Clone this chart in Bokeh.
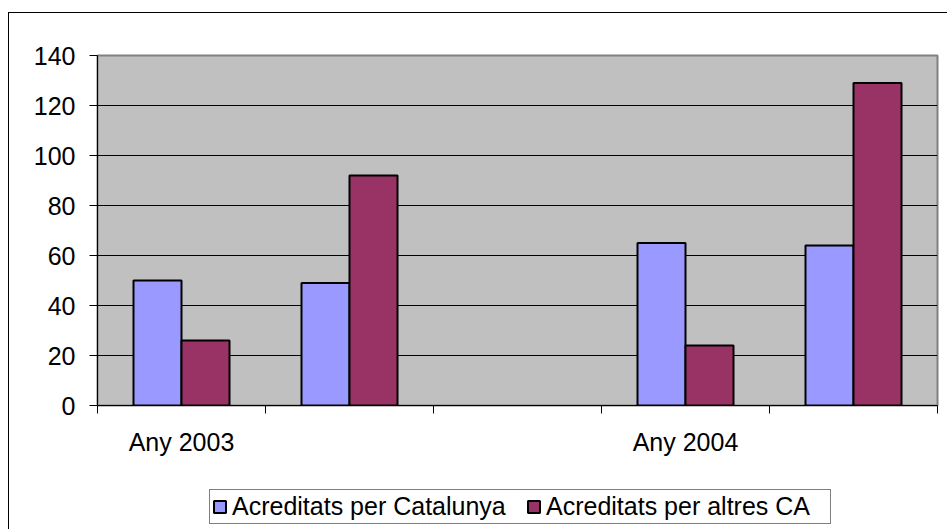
from bokeh.plotting import figure
from bokeh.models import ColumnDataSource, Range1d, FixedTicker, Legend, LegendItem
from bokeh.layouts import column
from bokeh.transform import dodge
from bokeh.embed import file_html
from bokeh.resources import INLINE

# ---- data ----
categories = ["Any 2003", "", "", "Any 2004", ""]
catalunya = [50, 49, None, 65, 64]
altres = [26, 92, None, 24, 129]
series_names = ["Acreditats per Catalunya", "Acreditats per altres CA"]
y_ticks = [0, 20, 40, 60, 80, 100, 120, 140]

FONT = "Liberation Sans"
FS = "25px"
BAR_W = 2 / 7
BLUE, PURPLE = "#9999FF", "#993366"

xs = [i + 0.5 for i in range(len(categories))]
idx = [i for i in range(len(categories)) if catalunya[i] is not None]
src = ColumnDataSource(dict(
    x=[xs[i] for i in idx],
    cat=[catalunya[i] for i in idx],
    alt=[altres[i] for i in idx],
))

# ---------------- main chart ----------------
p = figure(
    output_backend="svg", toolbar_location=None,
    width=947, height=460,
    min_border_left=97, min_border_top=55, min_border_right=10, min_border_bottom=55,
    x_range=Range1d(0, len(categories)), y_range=Range1d(0, 140),
)
p.background_fill_color = "#C0C0C0"
p.border_fill_color = None
p.outline_line_color = "#808080"
p.outline_line_width = 2
# outer chart frame (top and left edges visible in the reference)
p.styles = {
    "background": ("linear-gradient(#000, #000) 8px 12px / 939px 1px no-repeat, "
                   "linear-gradient(#000, #000) 8px 12px / 1px 517px no-repeat, #fff"),
}

p.vbar(x=dodge("x", -BAR_W / 2), top="cat", width=BAR_W, source=src,
       fill_color=BLUE, line_color="black", line_width=2)
p.vbar(x=dodge("x", BAR_W / 2), top="alt", width=BAR_W, source=src,
       fill_color=PURPLE, line_color="black", line_width=2)

p.yaxis.ticker = FixedTicker(ticks=y_ticks)
p.yaxis.major_tick_out = 8
p.yaxis.major_tick_in = 0
p.yaxis.minor_tick_line_color = None
p.yaxis.major_label_standoff = 14
p.yaxis.axis_line_color = "black"
p.yaxis.major_tick_line_color = "black"

centers = [xs[i] for i, c in enumerate(categories) if c]
p.xaxis.ticker = FixedTicker(ticks=centers, minor_ticks=list(range(len(categories) + 1)))
p.xaxis.major_label_overrides = {xs[i]: c for i, c in enumerate(categories) if c}
p.xaxis.major_tick_out = 0
p.xaxis.major_tick_in = 0
p.xaxis.minor_tick_out = 8
p.xaxis.minor_tick_in = 0
p.xaxis.minor_tick_line_color = "black"
p.xaxis.major_label_standoff = 14

for ax in (p.xaxis, p.yaxis):
    ax.major_label_text_font = FONT
    ax.major_label_text_font_size = FS
    ax.major_label_text_color = "black"
    ax.axis_line_width = 1

p.xgrid.grid_line_color = None
p.ygrid.ticker = FixedTicker(ticks=y_ticks[1:-1])
p.ygrid.grid_line_color = "black"
p.ygrid.grid_line_width = 1

# ---------------- legend strip ----------------
lg = figure(
    output_backend="svg", toolbar_location=None,
    width=947, height=69, min_border=0,
    x_axis_type=None, y_axis_type=None,
    x_range=Range1d(0, len(categories)), y_range=Range1d(1000, 1001),
)
lg.xgrid.grid_line_color = None
lg.ygrid.grid_line_color = None
lg.outline_line_color = None
lg.background_fill_color = None
lg.border_fill_color = None
lg.styles = {"background": "linear-gradient(#000, #000) 8px 0 / 1px 69px no-repeat, #fff"}

l1 = lg.vbar(x=dodge("x", -BAR_W / 2), top="cat", width=BAR_W, source=src,
             fill_color=BLUE, line_color="black", line_width=2)
l2 = lg.vbar(x=dodge("x", BAR_W / 2), top="alt", width=BAR_W, source=src,
             fill_color=PURPLE, line_color="black", line_width=2)
l1.visible = False
l2.visible = False

legend = Legend(items=[LegendItem(label=series_names[0], renderers=[l1]),
                       LegendItem(label=series_names[1], renderers=[l2])],
                orientation="horizontal", location=(112, 5), margin=0,
                padding=2, spacing=12, glyph_width=15, glyph_height=15,
                label_standoff=5, label_width=282,
                label_text_font=FONT, label_text_font_size=FS, label_text_color="black",
                border_line_color="black", border_line_width=1,
                background_fill_color="white", background_fill_alpha=1,
                inactive_fill_alpha=0)
lg.add_layout(legend, "center")

layout = column(p, lg, spacing=0)
open("out.html", "w").write(file_html(layout, INLINE))
